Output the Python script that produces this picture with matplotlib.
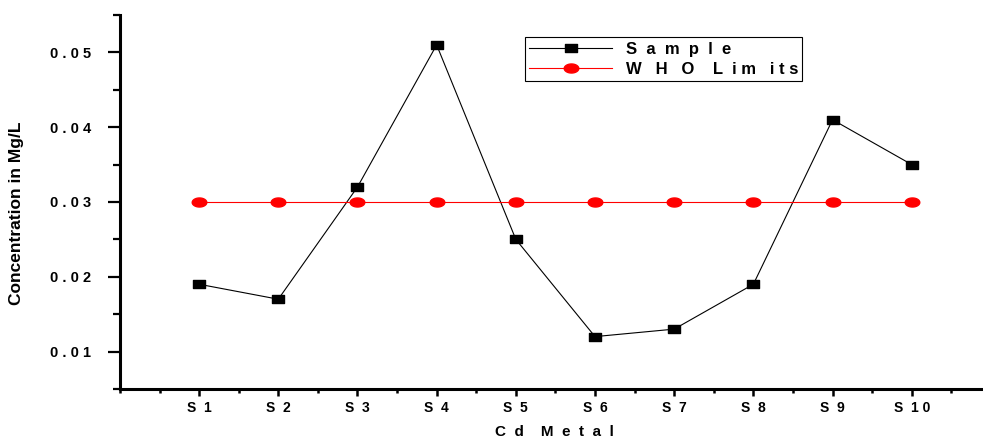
import matplotlib.pyplot as plt
import numpy as np
from matplotlib.path import Path
from matplotlib.ticker import MultipleLocator, FixedLocator

plt.rcParams['font.family'] = ['Liberation Sans', 'DejaVu Sans']

samples = ["S  1", "S  2", "S  3", "S  4", "S  5", "S  6", "S  7", "S  8", "S  9", "S  1 0"]
sample_vals = [0.019, 0.017, 0.032, 0.051, 0.025, 0.012, 0.013, 0.019, 0.041, 0.035]
who_vals = [0.03] * 10
ytick_vals = [0.01, 0.02, 0.03, 0.04, 0.05]
ytick_labels = ["0 . 0 1", "0 . 0 2", "0 . 0 3", "0 . 0 4", "0 . 0 5"]

# wide rectangle and ellipse markers
rect = Path([(-1, -0.62), (1, -0.62), (1, 0.62), (-1, 0.62), (-1, -0.62)],
            [Path.MOVETO, Path.LINETO, Path.LINETO, Path.LINETO, Path.CLOSEPOLY])
t = np.linspace(0, 2 * np.pi, 40)
ell = Path(np.column_stack([np.cos(t), 0.62 * np.sin(t)]), closed=True)

fig = plt.figure(figsize=(9.83, 4.41), dpi=100)
ax = fig.add_axes([0.122, 0.118, 0.878, 0.848])

x = np.arange(1, len(samples) + 1)
ax.plot(x, sample_vals, color='black', linewidth=0.8, marker=rect, markersize=9,
        markerfacecolor='black', markeredgecolor='black', label='S  a  m  p  l  e')
ax.plot(x, who_vals, color='red', linewidth=0.8, marker=ell, markersize=10.5,
        markerfacecolor='red', markeredgecolor='red', label='W   H   O    L  i m   i t s')

ax.set_xlim(0, 10.9)
ax.set_ylim(0.005, 0.055)

ax.xaxis.set_major_locator(FixedLocator(x))
ax.set_xticklabels(samples, fontweight='bold', fontsize=10)
ax.xaxis.set_minor_locator(MultipleLocator(0.5))
ax.set_yticks(ytick_vals)
ax.set_yticklabels(ytick_labels, fontweight='bold', fontsize=10.5)
ax.yaxis.set_minor_locator(MultipleLocator(0.005))

for s in ['top', 'right']:
    ax.spines[s].set_visible(False)
for s in ['left', 'bottom']:
    ax.spines[s].set_linewidth(2.2)

ax.tick_params(axis='y', which='major', direction='out', length=9, width=1.6, pad=12)
ax.tick_params(axis='y', which='minor', direction='out', length=5, width=1.6)
ax.tick_params(axis='x', which='major', direction='out', length=5, width=1.8, pad=4)
ax.tick_params(axis='x', which='minor', direction='out', length=3, width=1.8)

ax.set_xlabel("C  d    M  e  t  a  l", fontweight='bold', fontsize=11)
ax.xaxis.set_label_coords(0.504, -0.115)
ax.xaxis.label.set_va('center')
ax.set_ylabel("Concentration in Mg/L", fontweight='bold', fontsize=12.5)
ax.yaxis.set_label_coords(-0.12, 0.47)
ax.yaxis.label.set_va('center')

leg = ax.legend(loc='upper left', bbox_to_anchor=(0.469, 0.94), fancybox=False,
                edgecolor='black', framealpha=1, borderpad=0.25, labelspacing=0.3,
                handlelength=5.0, handletextpad=0.8, borderaxespad=0,
                prop={'weight': 'bold', 'size': 12})
leg.get_frame().set_linewidth(0.8)

fig.savefig("out.png", dpi=100)
